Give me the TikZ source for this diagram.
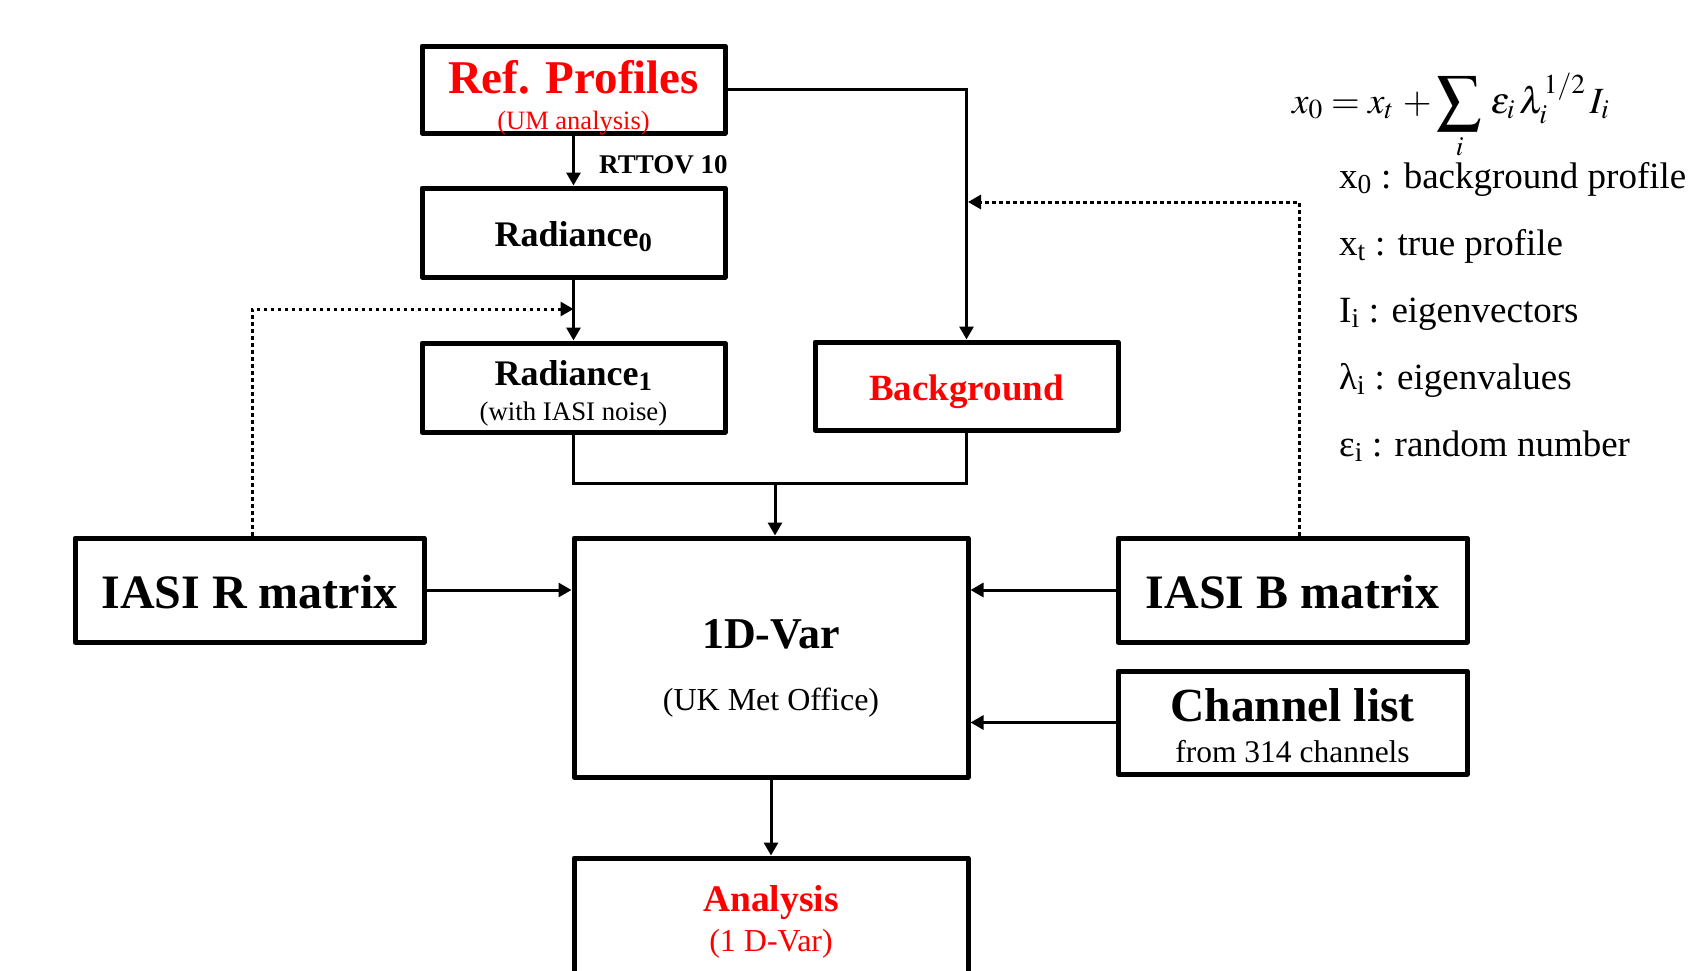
\documentclass[tikz,border=0pt]{standalone}
\usepackage{mathptmx}
\usepackage{fontspec}
\setmainfont{Liberation Serif}
\usetikzlibrary{arrows.meta}
\definecolor{refred}{RGB}{255,0,0}
\newcommand\fsz[1]{\fontsize{#1}{#1}\selectfont}
\begin{document}
\begin{tikzpicture}[x=1pt,y=-1pt,
  box/.style={draw, line width=5pt, line join=round, inner sep=0pt},
  lbl/.style={inner sep=0pt, anchor=base},
  lblw/.style={inner sep=0pt, anchor=base west},
  conn/.style={line width=3pt, -{Triangle[length=13pt,width=14pt]}},
  plain/.style={line width=3pt},
  dotc/.style={line width=3pt, dash pattern=on 3.5pt off 3.5pt, -{Triangle[length=13pt,width=14pt]}}]
\useasboundingbox (0,0) rectangle (1694,970);
\clip (0,0) rectangle (1694,970);

% boxes
\node[box, minimum width=303pt, minimum height=87pt] (ref) at (573.5,89.5) {};
\node[box, minimum width=303pt, minimum height=89pt] (rad0) at (573.5,232.5) {};
\node[box, minimum width=303pt, minimum height=89pt] (rad1) at (573.5,387.5) {};
\node[box, minimum width=303pt, minimum height=88pt] (bg) at (966.5,386) {};
\node[box, minimum width=394pt, minimum height=239pt] (var) at (771,657.5) {};
\node[box, minimum width=394pt, minimum height=160pt] (ana) at (771,938) {};
\node[box, minimum width=349pt, minimum height=104pt] (R) at (249.5,590) {};
\node[box, minimum width=349pt, minimum height=104pt] (B) at (1292.5,590) {};
\node[box, minimum width=349pt, minimum height=103pt] (ch) at (1292.5,722.5) {};

% texts
\node[lbl, text=refred] (refT) at (573.5,93) {\fsz{47}\bfseries Ref. Profiles};
\node[lbl, text=refred] (refS) at (573.5,129) {\fsz{26.5}(UM analysis)};
\node[lblw] (rtt) at (599,173) {\fsz{27}\bfseries RTTOV 10};
\node[lbl] (rad0T) at (573.5,246) {\fsz{36}\bfseries Radiance\textsubscript{0}};
\node[lbl] (rad1T) at (573.5,385) {\fsz{36}\bfseries Radiance\textsubscript{1}};
\node[lbl] (rad1S) at (573.5,420) {\fsz{26.8}(with IASI noise)};
\node[lbl, text=refred] (bgT) at (966.5,400) {\fsz{37}\bfseries Background};
\node[lbl] (RT) at (249.5,608) {\fsz{48}\bfseries IASI R matrix};
\node[lbl] (BT) at (1292.5,608) {\fsz{48}\bfseries IASI B matrix};
\node[lbl] (varT) at (771,648) {\fsz{44}\bfseries 1D-Var};
\node[lbl] (varS) at (771,710) {\fsz{32}(UK Met Office)};
\node[lbl] (chT) at (1292.5,721) {\fsz{47.5}\bfseries Channel list};
\node[lbl] (chS) at (1292.5,762) {\fsz{31.5}from 314 channels};
\node[lbl, text=refred] (anaT) at (771,911) {\fsz{37.5}\bfseries Analysis};
\node[lbl, text=refred] (anaS) at (771,951) {\fsz{32}(1 D-Var)};

% equation and legend
\node[lblw] (eq) at (1292,113) {\fsz{37}$\displaystyle x_{0}=x_{t}\,+\mathop{\vcenter{\hbox{\scalebox{1.2}{$\displaystyle\sum$}}}}\limits_{i}\,\varepsilon_{i}\,\lambda_{i}^{1/2}\,I_{i}$};
\node[lblw] (l1) at (1339,188) {\fsz{37}x\textsubscript{0} : background profile};
\node[lblw] (l2) at (1339,255) {\fsz{37}x\textsubscript{t} : true profile};
\node[lblw] (l3) at (1339,322) {\fsz{37}I\textsubscript{i} : eigenvectors};
\node[lblw] (l4) at (1339,389) {\fsz{37}λ\textsubscript{i} : eigenvalues};
\node[lblw] (l5) at (1339,456) {\fsz{37}ε\textsubscript{i} : random number};

% helper coordinates
\coordinate (m1) at (573.5,309);
\coordinate (m2) at (968,202);
\coordinate (j) at (775,483);

% connectors
\draw[conn] (ref.south) -- (rad0.north);
\draw[conn] (rad0.south) -- (rad1.north);
\draw[conn] (ref.east) -| (bg.north);
\draw[dotc] ([xshift=2.5pt]R.north) |- (m1);
\draw[dotc] ([xshift=6.5pt]B.north) |- (m2);
\draw[plain] (rad1.south) |- (j) -| (bg.south);
\draw[conn] (j) -- (j |- var.north);
\draw[conn] (R.east) -- (R.east -| var.west);
\draw[conn] (B.west) -- (B.west -| var.east);
\draw[conn] (ch.west) -- (ch.west -| var.east);
\draw[conn] (var.south) -- (ana.north);
\end{tikzpicture}
\end{document}
